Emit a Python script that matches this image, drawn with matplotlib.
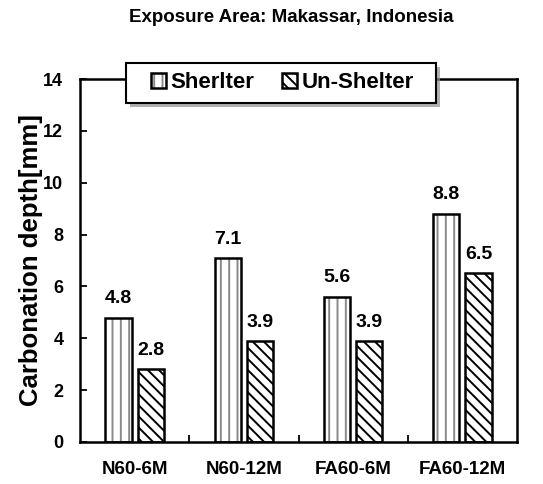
import matplotlib
matplotlib.use("Agg")
import matplotlib.pyplot as plt
from matplotlib.legend_handler import HandlerTuple
from matplotlib.patches import Rectangle, Shadow
import numpy as np

plt.rcParams.update({
    "font.family": ["Liberation Sans", "DejaVu Sans"],
    "font.weight": "bold",
    "hatch.linewidth": 1.4,
})

categories = ["N60-6M", "N60-12M", "FA60-6M", "FA60-12M"]
shelter = [4.8, 7.1, 5.6, 8.8]
unshelter = [2.8, 3.9, 3.9, 6.5]
yticks = [0, 2, 4, 6, 8, 10, 12, 14]

W, H = 543, 484
fig = plt.figure(figsize=(W / 100, H / 100), dpi=100)
ax = fig.add_axes([80 / W, 1 - 442 / H, 437 / W, 363 / H])

x = np.arange(len(categories))
width = 0.24
off = 0.147

# sheltered bars: light vertical hatch + black outline
h1 = ax.bar(x - off, shelter, width, color="white", edgecolor="#8a8a8a",
            linewidth=0, hatch="||")
b1 = ax.bar(x - off, shelter, width, fill=False, edgecolor="black", linewidth=1.8)
b2 = ax.bar(x + off, unshelter, width, color="white", edgecolor="black",
            linewidth=1.8, hatch="\\\\\\")

for bars, vals in ((b1, shelter), (b2, unshelter)):
    for r, v in zip(bars, vals):
        ax.text(r.get_x() + r.get_width() / 2, v + 0.4, f"{v:.1f}",
                ha="center", va="bottom", fontsize=14, fontweight="bold")

ax.set_xlim(-0.5, 3.5)
ax.set_ylim(0, 14)
ax.set_yticks(yticks)
ax.set_xticks(x)
ax.set_xticklabels(categories, fontsize=13.5, fontweight="bold")
ax.set_xticks(np.arange(0.5, 3.5, 1), minor=True)
ax.tick_params(axis="x", which="major", length=0, pad=14)
ax.tick_params(axis="x", which="minor", direction="in", length=5, width=1.3)
ax.tick_params(axis="y", direction="in", length=5, width=1.3, labelsize=13, pad=12)
for lab in ax.get_yticklabels():
    lab.set_fontweight("bold")
for s in ax.spines.values():
    s.set_linewidth(1.8)

ax.set_ylabel("Carbonation depth[mm]", fontsize=18.5, fontweight="bold", labelpad=0)
fig.text(291 / W, 1 - 17 / H, "Exposure Area: Makassar, Indonesia",
         ha="center", va="center", fontsize=13.5, fontweight="bold")

# legend box with drop shadow, sitting over the top spine
box = Rectangle((126 / W, 1 - 103 / H), 310 / W, 40 / H, transform=fig.transFigure,
                facecolor="white", edgecolor="black", linewidth=1.5, zorder=5)
shadow = Shadow(box, 3 / W, -3 / H, facecolor="#8f8f8f", edgecolor="none",
                alpha=0.7, zorder=4.9)
fig.add_artist(shadow)
fig.add_artist(box)

leg = fig.legend([(h1[0], b1[0]), b2[0]], ["Sherlter", "Un-Shelter"],
                 handler_map={tuple: HandlerTuple(ndivide=1)},
                 loc="center", bbox_to_anchor=(282.5 / W, 1 - 83 / H), ncol=2,
                 fontsize=16, frameon=False, handlelength=0.68, handleheight=0.68,
                 handletextpad=0.18, columnspacing=1.26, borderpad=0)
leg.set_zorder(6)
for t in leg.get_texts():
    t.set_fontweight("bold")

fig.savefig("out.png", dpi=100)
